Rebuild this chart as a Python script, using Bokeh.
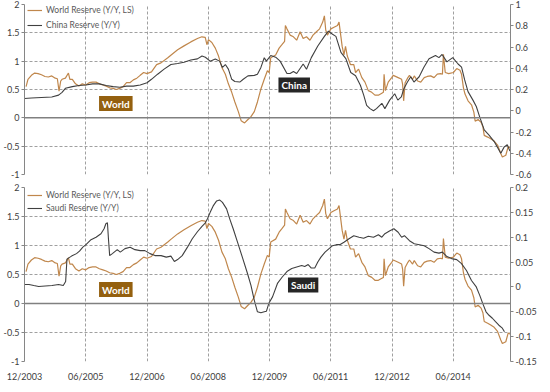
import pandas as pd
from bokeh.plotting import figure
from bokeh.layouts import column
from bokeh.models import (Range1d, LinearAxis, FixedTicker, Span, Label,
                          Legend, LegendItem, CustomJSTickFormatter, DatetimeTickFormatter)
from bokeh.embed import file_html
from bokeh.resources import INLINE

# ---------------- data ----------------
world_dates = ["2003-12-15","2004-01-01","2004-02-01","2004-03-01","2004-04-01","2004-05-01","2004-06-01",
 "2004-07-01","2004-08-01","2004-09-01","2004-09-20","2004-10-05","2004-10-20","2004-11-01","2004-12-01",
 "2004-12-28","2005-01-10","2005-02-01","2005-03-01","2005-04-01","2005-05-01","2005-06-01","2005-07-01",
 "2005-08-01","2005-09-01","2005-10-01","2005-11-01","2005-12-01","2006-01-01","2006-02-01","2006-03-01",
 "2006-04-01","2006-05-01","2006-06-01","2006-07-01","2006-08-01","2006-09-01","2006-10-01","2006-11-01",
 "2006-12-01","2007-01-10","2007-02-25","2007-04-05","2007-06-05","2007-07-05","2007-09-01","2007-10-28",
 "2007-12-28","2008-02-25","2008-04-05","2008-05-05","2008-05-20","2008-06-03","2008-07-03","2008-08-03",
 "2008-09-01","2008-10-01","2008-11-01","2008-11-28","2008-12-28","2009-01-25","2009-02-25","2009-03-22",
 "2009-04-22","2009-05-22","2009-06-18","2009-07-18","2009-08-15","2009-09-15","2009-10-15","2009-11-12",
 "2009-11-28","2009-12-12","2010-01-25","2010-02-25","2010-03-22","2010-04-15","2010-04-22","2010-05-06",
 "2010-06-03","2010-07-03","2010-08-01","2010-09-01","2010-09-28","2010-10-28","2010-11-28","2010-12-25",
 "2011-01-25","2011-02-22","2011-03-22","2011-04-06","2011-04-18","2011-05-03","2011-06-03","2011-07-01",
 "2011-08-01","2011-08-15","2011-09-01","2011-09-12","2011-09-28","2011-10-12","2011-10-28","2011-11-25",
 "2011-12-25","2012-01-10","2012-02-06","2012-03-06","2012-04-03","2012-05-03","2012-06-03","2012-07-01",
 "2012-08-01","2012-08-28","2012-09-15","2012-09-21","2012-10-03","2012-10-28","2012-11-28","2012-12-12",
 "2013-01-25","2013-02-25","2013-03-06","2013-03-15","2013-03-28","2013-04-22","2013-05-06","2013-06-03",
 "2013-06-18","2013-07-18","2013-08-15","2013-09-15","2013-10-12","2013-11-12","2013-12-12","2014-01-10",
 "2014-02-10","2014-02-25","2014-03-06","2014-03-22","2014-04-22","2014-06-03","2014-07-03","2014-08-01",
 "2014-08-15","2014-09-01","2014-09-15","2014-10-12","2014-11-12","2014-12-03","2014-12-15","2015-01-10",
 "2015-02-06","2015-02-22","2015-03-06","2015-04-06","2015-05-03","2015-06-03","2015-07-03","2015-08-01",
 "2015-08-15","2015-09-15","2015-10-06","2015-10-28"]
world_vals = [0.55,0.68,0.75,0.79,0.78,0.76,0.73,
 0.72,0.74,0.70,0.69,0.47,0.65,0.68,0.70,
 0.79,0.68,0.68,0.60,0.56,0.60,0.58,0.62,
 0.63,0.63,0.60,0.58,0.56,0.53,0.52,0.50,
 0.52,0.55,0.62,0.62,0.67,0.70,0.75,0.80,
 0.78,0.81,0.94,0.97,1.06,1.11,1.20,1.27,
 1.34,1.40,1.43,1.42,1.29,1.38,1.33,1.23,
 1.09,0.89,0.77,0.60,0.45,0.28,0.11,-0.05,
 -0.09,-0.03,0.02,0.11,0.28,0.51,0.68,0.83,
 0.80,1.06,1.11,1.23,1.29,1.35,1.63,1.57,
 1.46,1.43,1.37,1.52,1.40,1.43,1.37,1.46,
 1.52,1.57,1.69,1.80,1.55,1.46,1.57,1.60,
 1.63,1.69,1.43,1.26,1.11,1.26,1.09,0.94,
 0.94,0.80,0.86,0.71,0.63,0.48,0.45,0.40,
 0.40,0.43,0.45,0.77,0.48,0.63,0.71,0.75,
 0.71,0.68,0.59,0.30,0.62,0.71,0.75,0.68,
 0.74,0.65,0.63,0.71,0.73,0.74,0.71,0.77,
 0.78,0.77,1.12,0.80,0.78,0.80,0.87,0.84,
 0.77,0.53,0.42,0.30,0.23,0.10,-0.06,-0.03,
 -0.08,-0.16,-0.31,-0.34,-0.37,-0.41,-0.48,-0.63,
 -0.69,-0.66,-0.51,-0.53]

china_dates = ["2003-12-01","2004-02-01","2004-05-01","2004-08-01","2004-10-01","2004-11-01","2004-12-01",
 "2005-02-01","2005-04-01","2005-06-01","2005-08-01","2005-10-01","2005-12-01","2006-02-01","2006-04-01",
 "2006-06-01","2006-08-01","2006-10-01","2006-12-01","2007-01-10","2007-03-06","2007-05-03","2007-07-03",
 "2007-09-01","2007-10-28","2007-12-28","2008-02-25","2008-04-06","2008-05-06","2008-06-18","2008-08-03",
 "2008-09-10","2008-10-06","2008-11-01","2008-11-28","2008-12-28","2009-01-25","2009-03-10","2009-04-10",
 "2009-05-22","2009-07-18","2009-08-15","2009-09-15","2009-10-15","2009-11-03","2009-12-12","2010-01-25",
 "2010-03-06","2010-05-06","2010-06-03","2010-07-03","2010-08-01","2010-09-28","2010-10-28","2010-12-10",
 "2011-02-06","2011-04-06","2011-05-12","2011-06-18","2011-07-18","2011-09-01","2011-10-15","2011-11-28",
 "2012-01-10","2012-02-22","2012-03-22","2012-04-18","2012-05-18","2012-06-18","2012-07-15","2012-09-01",
 "2012-09-28","2012-11-10","2012-12-25","2013-01-22","2013-02-22","2013-03-18","2013-04-18","2013-05-18",
 "2013-06-15","2013-08-01","2013-09-12","2013-10-28","2013-12-25","2014-01-25","2014-02-22","2014-04-06",
 "2014-05-28","2014-07-15","2014-08-15","2014-09-12","2014-10-12","2014-11-25","2014-12-25","2015-01-25",
 "2015-03-06","2015-04-18","2015-06-03","2015-08-01","2015-09-01","2015-09-28","2015-10-22"]
china_vals = [0.115,0.12,0.125,0.13,0.147,0.173,0.211,
 0.227,0.237,0.243,0.253,0.253,0.237,0.227,0.221,
 0.232,0.232,0.243,0.264,0.296,0.344,0.392,0.435,
 0.445,0.456,0.477,0.488,0.515,0.504,0.467,0.488,
 0.467,0.408,0.435,0.392,0.296,0.275,0.27,0.296,
 0.328,0.333,0.344,0.408,0.499,0.467,0.52,0.504,
 0.467,0.35,0.35,0.37,0.35,0.44,0.39,0.50,
 0.61,0.70,0.75,0.72,0.70,0.55,0.49,0.36,
 0.33,0.24,0.15,0.05,0.02,0.0,0.02,0.07,
 0.02,0.10,0.16,0.10,0.13,0.21,0.27,0.32,
 0.27,0.32,0.41,0.49,0.52,0.50,0.53,0.46,
 0.50,0.44,0.41,0.29,0.18,0.10,0.04,-0.06,
 -0.18,-0.23,-0.29,-0.40,-0.34,-0.32,-0.38]

saudi_dates = ["2003-12-01","2004-01-10","2004-02-22","2004-04-06","2004-06-03","2004-08-03","2004-10-01",
 "2004-11-12","2004-12-03","2004-12-15","2004-12-28","2005-01-25","2005-03-10","2005-04-06","2005-05-06",
 "2005-06-03","2005-07-18","2005-09-01","2005-10-15","2005-11-12","2005-11-28","2005-12-12","2005-12-21",
 "2006-01-01","2006-01-25","2006-03-10","2006-04-06","2006-05-18","2006-07-03","2006-08-15","2006-10-01",
 "2006-11-12","2006-12-28","2007-02-10","2007-04-06","2007-05-22","2007-07-03","2007-08-03","2007-09-01",
 "2007-10-12","2007-11-28","2008-01-10","2008-02-25","2008-04-06","2008-05-06","2008-05-25","2008-06-18",
 "2008-07-15","2008-08-15","2008-09-10","2008-10-06","2008-11-12","2008-12-10","2009-01-10","2009-02-22",
 "2009-04-06","2009-05-18","2009-06-18","2009-07-18","2009-08-15","2009-09-15","2009-10-15","2009-11-03",
 "2009-11-25","2009-12-28","2010-02-10","2010-03-25","2010-05-06","2010-06-18","2010-08-01","2010-09-15",
 "2010-10-12","2010-11-12","2010-12-10","2011-01-10","2011-02-06","2011-03-06","2011-04-12","2011-05-18",
 "2011-06-18","2011-07-22","2011-08-22","2011-09-28","2011-11-12","2011-12-25","2012-02-10","2012-03-22",
 "2012-05-03","2012-06-18","2012-08-01","2012-09-01","2012-09-28","2012-11-12","2012-12-18","2013-01-25",
 "2013-02-25","2013-03-22","2013-05-06","2013-06-18","2013-08-03","2013-09-15","2013-10-28","2013-12-12",
 "2014-01-25","2014-02-25","2014-04-06","2014-05-18","2014-07-03","2014-08-15","2014-09-28","2014-11-12",
 "2014-12-25","2015-01-25","2015-02-22","2015-03-22","2015-04-18","2015-05-18","2015-06-15","2015-07-15",
 "2015-08-15","2015-09-03"]
saudi_vals = [0.005,0.005,0.003,0.001,0.002,0.003,0.005,
 0.003,0.011,0.056,0.058,0.062,0.067,0.072,0.080,
 0.085,0.095,0.100,0.107,0.117,0.127,0.129,0.097,
 0.063,0.067,0.075,0.070,0.077,0.080,0.075,0.073,
 0.073,0.067,0.063,0.063,0.060,0.062,0.051,0.055,
 0.063,0.080,0.097,0.111,0.122,0.129,0.137,0.150,
 0.163,0.173,0.175,0.170,0.157,0.137,0.117,0.087,
 0.057,0.027,0.003,-0.027,-0.050,-0.052,-0.050,-0.049,
 -0.033,-0.020,0.007,0.020,0.031,0.037,0.040,0.043,
 0.041,0.045,0.038,0.038,0.050,0.060,0.070,0.077,
 0.083,0.085,0.085,0.090,0.097,0.103,0.100,0.098,
 0.102,0.100,0.105,0.100,0.107,0.113,0.117,0.110,
 0.100,0.103,0.093,0.087,0.085,0.083,0.077,0.070,
 0.068,0.070,0.061,0.057,0.055,0.047,0.033,0.013,
 0.000,-0.017,-0.034,-0.050,-0.057,-0.063,-0.070,-0.077,
 -0.083,-0.090]

xtick_dates = ["2003-12-01","2005-06-01","2006-12-01","2008-06-01","2009-12-01","2011-06-01","2012-12-01","2014-06-01"]
xtick_labels = ["12/2003","06/2005","12/2006","06/2008","12/2009","06/2011","12/2012","06/2014"]
left_ticks = [-1, -0.5, 0, 0.5, 1, 1.5, 2]
china_ticks = [-0.6, -0.4, -0.2, 0, 0.2, 0.4, 0.6, 0.8, 1.0]
saudi_ticks = [-0.15, -0.1, -0.05, 0, 0.05, 0.1, 0.15, 0.2]

# ---------------- styling ----------------
FONT = "Lato"
WORLD_C = "#C0874C"
OTHER_C = "#404040"
BOX_BROWN = "#94600F"
BOX_DARK = "#262626"
AX_C = "#868686"
GRID_C = "#A0A0A0"


def ts(s):
    return pd.Timestamp(s).value / 1e6


xt = [ts(d) for d in xtick_dates]
x_range = Range1d(ts("2003-12-01"), ts("2015-10-27"))
yfmt_code = "return String(Math.round(tick*1000)/1000);"


def make_panel(other_name, other_dates, other_vals, other_range, other_ticks,
               frame_h, top_b, bottom_b, show_x, leg_y, leg_spacing, labels):
    p = figure(x_axis_type="datetime", x_range=x_range, y_range=Range1d(-1, 2),
               frame_width=486, frame_height=frame_h, output_backend="svg",
               toolbar_location=None, min_border_left=19, min_border_right=25,
               min_border_top=top_b, min_border_bottom=bottom_b)
    p.outline_line_color = None
    p.background_fill_color = "white"
    p.extra_y_ranges = {"r": other_range}

    # grids
    p.xgrid.ticker = FixedTicker(ticks=xt)
    p.ygrid.ticker = FixedTicker(ticks=[t for t in left_ticks if t != 0])
    for g in (p.xgrid, p.ygrid):
        g.grid_line_color = GRID_C
        g.grid_line_dash = "3 2"
        g.grid_line_width = 1
    p.add_layout(Span(location=0, dimension="width", line_color="#808080", line_width=1.5))

    # left axis
    ya = p.yaxis[0]
    ya.ticker = FixedTicker(ticks=left_ticks)
    ya.formatter = CustomJSTickFormatter(code=yfmt_code)
    # right axis
    ra = LinearAxis(y_range_name="r", ticker=FixedTicker(ticks=other_ticks),
                    formatter=CustomJSTickFormatter(code=yfmt_code))
    p.add_layout(ra, "right")
    for ax in (ya, ra):
        ax.axis_line_color = AX_C
        ax.major_tick_line_color = AX_C
        ax.major_tick_out = 3
        ax.major_tick_in = 0
        ax.minor_tick_line_color = None
        ax.major_label_standoff = 2
        ax.major_label_text_font = FONT
        ax.major_label_text_font_size = "9px"
        ax.major_label_text_color = "#404040"

    xa = p.xaxis[0]
    xa.ticker = FixedTicker(ticks=xt)
    xa.formatter = DatetimeTickFormatter(years="%m/%Y", months="%m/%Y", days="%m/%Y",
                                         hours="%m/%Y", minutes="%m/%Y")
    xa.major_label_overrides = {t: l for t, l in zip(xt, xtick_labels)}
    xa.axis_line_color = None
    xa.major_tick_line_color = None
    xa.minor_tick_line_color = None
    xa.major_label_standoff = 3
    xa.major_label_text_font = FONT
    xa.major_label_text_font_size = "9px"
    xa.major_label_text_color = "#404040"
    if not show_x:
        xa.visible = False

    wr = p.line(pd.to_datetime(world_dates), world_vals, line_color=WORLD_C, line_width=1.2)
    orr = p.line(pd.to_datetime(other_dates), other_vals, line_color=OTHER_C, line_width=1.1,
                 y_range_name="r")

    leg = Legend(items=[LegendItem(label="World Reserve (Y/Y, LS)", renderers=[wr]),
                        LegendItem(label=other_name, renderers=[orr])],
                 location=(3, leg_y), margin=0, padding=0, spacing=leg_spacing,
                 label_height=12, glyph_height=12, glyph_width=15, label_standoff=4,
                 label_text_font=FONT, label_text_font_size="8.5px",
                 label_text_color="#595959", border_line_color=None,
                 background_fill_alpha=0)
    p.add_layout(leg)

    for txt, xd, yv, col in labels:
        p.add_layout(Label(x=ts(xd), y=yv, text=txt, text_align="center",
                           text_baseline="middle", text_color="white",
                           text_font=FONT, text_font_style="bold", text_font_size="10px",
                           background_fill_color=col,
                           padding=dict(left=3, right=3, top=2, bottom=1)))
    return p


p1 = make_panel("China Reserve (Y/Y)", china_dates, china_vals, Range1d(-0.6, 1.0), china_ticks,
                170, 4, 6, False, 143, 3,
                [("World", "2006-02-25", 0.255, BOX_BROWN), ("China", "2010-07-10", 0.58, BOX_DARK)])
p2 = make_panel("Saudi Reserve (Y/Y)", saudi_dates, saudi_vals, Range1d(-0.15, 0.2), saudi_ticks,
                174, 7, 15, True, 147, 1,
                [("World", "2006-02-25", 0.24, BOX_BROWN), ("Saudi", "2010-09-28", 0.32, BOX_DARK)])

layout = column(p1, p2, spacing=0)
open("out.html", "w").write(file_html(layout, INLINE))
